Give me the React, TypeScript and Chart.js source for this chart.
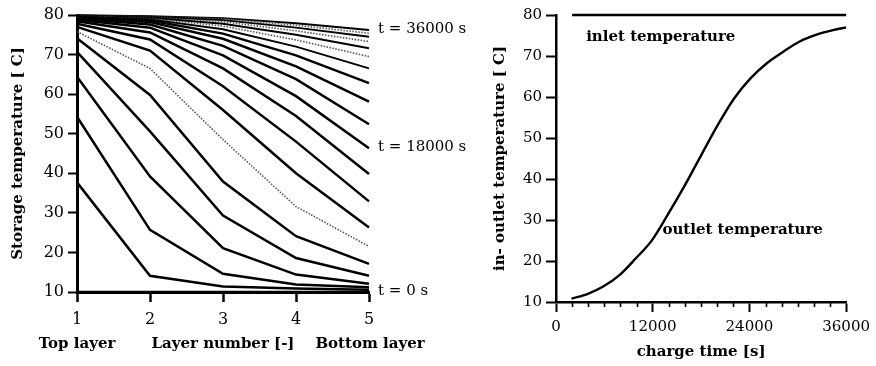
import React, { useEffect, useRef } from 'react';
import { Chart, registerables } from 'chart.js';
Chart.register(...registerables);

// ---------- Left chart: storage temperature profiles ----------
const layerNumbers = [1, 2, 3, 4, 5];
const profileTimes = [0, 1800, 3600, 5400, 7200, 9000, 10800, 12600, 14400, 16200, 18000,
  19800, 21600, 23400, 25200, 27000, 28800, 30600, 32400, 34200, 36000];
const profileTemps: number[][] = [
  [10, 10, 10, 10, 10],
  [37.7, 14.1, 11.4, 10.9, 10.6],
  [54.3, 25.7, 14.6, 11.9, 11.2],
  [64.4, 39.2, 21.1, 14.4, 12.1],
  [70.7, 50.6, 29.3, 18.6, 14.1],
  [74.1, 59.8, 37.9, 24.1, 17.1],
  [75.8, 66.5, 48.5, 31.6, 21.5],
  [77.0, 71.0, 56.0, 40.0, 26.3],
  [77.8, 73.8, 62.0, 48.0, 32.9],
  [78.4, 75.6, 66.5, 54.5, 39.8],
  [78.8, 76.8, 69.8, 59.5, 46.3],
  [79.1, 77.6, 72.2, 63.8, 52.4],
  [79.3, 78.2, 74.0, 67.0, 58.1],
  [79.5, 78.6, 75.3, 69.8, 62.8],
  [79.6, 78.9, 76.4, 72.0, 66.5],
  [79.7, 79.1, 77.2, 73.7, 69.5],
  [79.8, 79.3, 77.8, 75.0, 71.6],
  [79.85, 79.45, 78.3, 76.0, 73.3],
  [79.9, 79.55, 78.7, 76.8, 74.5],
  [79.9, 79.65, 79.0, 77.4, 75.4],
  [79.95, 79.7, 79.2, 77.9, 76.2],
];
const labelledTimes = [36000, 18000, 0];
const leftYTicks = [10, 20, 30, 40, 50, 60, 70, 80];

// ---------- Right chart: inlet / outlet temperature ----------
const inletTimes = [2000, 36000];
const inletTemps = [80, 80];
const outletTimes = [1920, 3960, 5800, 7840, 9880, 11920, 13960, 16000, 18040, 20080,
  22120, 24160, 26200, 28240, 30290, 32330, 34370, 36000];
const outletTemps = [10.8, 12.0, 13.7, 16.5, 20.6, 25.1, 31.6, 38.5, 45.9, 53.2,
  59.7, 64.6, 68.3, 71.1, 73.6, 75.2, 76.3, 77.0];
const rightXTicks = [0, 12000, 24000, 36000];
const minorStep = 2000;

const FONT = "'DejaVu Serif', 'Liberation Serif', serif";

// style per profile (not data)
const dottedProfiles = [6, 15, 17, 19];

function LeftChart() {
  const ref = useRef<HTMLCanvasElement>(null);
  useEffect(() => {
    const datasets = profileTemps.map((temps, i) => {
      const dotted = dottedProfiles.includes(i);
      const upper = i >= 14;
      return {
        label: 't = ' + profileTimes[i] + ' s',
        data: layerNumbers.map((l, j) => ({ x: l, y: temps[j] })),
        borderColor: dotted ? '#555' : '#000',
        borderWidth: dotted ? 1.6 : upper ? 1.9 : 2.5,
        borderDash: dotted ? [1.5, 1.5] : [],
        pointRadius: 0,
        tension: 0,
        clip: false as any,
      };
    });
    const annot = {
      id: 'leftAnnot',
      afterDraw(chart: any) {
        const { ctx, scales, chartArea } = chart;
        ctx.save();
        ctx.fillStyle = '#000';
        ctx.textBaseline = 'middle';
        ctx.font = `bold 15px ${FONT}`;
        ctx.textAlign = 'center';
        ctx.fillText('Top layer', scales.x.getPixelForValue(layerNumbers[0]), 344);
        ctx.fillText('Bottom layer', scales.x.getPixelForValue(layerNumbers[layerNumbers.length - 1]) + 1, 344);
        ctx.font = `15px ${FONT}`;
        ctx.textAlign = 'left';
        labelledTimes.forEach((t) => {
          const idx = profileTimes.indexOf(t);
          const v = profileTemps[idx][profileTemps[idx].length - 1];
          ctx.fillText('t = ' + t + ' s', chartArea.right + 9, scales.y.getPixelForValue(v) - 1);
        });
        ctx.restore();
      },
    };
    const chart = new Chart(ref.current!, {
      type: 'line',
      data: { datasets },
      options: {
        animation: false,
        responsive: false,
        events: [],
        layout: { padding: { top: 15, right: 111, left: 0, bottom: 0 }, autoPadding: false },
        plugins: { legend: { display: false }, tooltip: { enabled: false } },
        scales: {
          x: {
            type: 'linear', min: 1, max: 5,
            afterFit: (s: any) => { s.height = 74; },
            afterBuildTicks: (s: any) => { s.ticks = layerNumbers.map((v) => ({ value: v })); },
            ticks: { font: { family: FONT, size: 16 }, color: '#000', padding: 8, maxRotation: 0 },
            grid: { drawOnChartArea: false, drawTicks: true, tickLength: 10, tickWidth: 2.5, tickColor: '#000' },
            border: { display: true, color: '#000', width: 3 },
            title: { display: true, text: 'Layer number [-]', color: '#000', font: { family: FONT, size: 15, weight: 'bold' }, padding: { top: 0, bottom: 13 } },
          },
          y: {
            type: 'linear', min: 10, max: 80,
            afterFit: (s: any) => { s.width = 77; },
            afterBuildTicks: (s: any) => { s.ticks = leftYTicks.map((v) => ({ value: v })); },
            ticks: { font: { family: FONT, size: 16 }, color: '#000', padding: 4 },
            grid: { drawOnChartArea: false, drawTicks: true, tickLength: 9, tickWidth: 2, tickColor: '#000' },
            border: { display: true, color: '#000', width: 3 },
            title: { display: true, text: 'Storage temperature [ C]', color: '#000', font: { family: FONT, size: 15, weight: 'bold' }, padding: { top: 9, bottom: 0 } },
          },
        },
      } as any,
      plugins: [annot],
    });
    return () => chart.destroy();
  }, []);
  return <canvas ref={ref} width={480} height={366} style={{ position: 'absolute', left: 0, top: 0 }} />;
}

function RightChart() {
  const ref = useRef<HTMLCanvasElement>(null);
  useEffect(() => {
    const annot = {
      id: 'rightAnnot',
      afterDraw(chart: any) {
        const { ctx, scales } = chart;
        const xs = scales.x;
        ctx.save();
        ctx.strokeStyle = '#000';
        ctx.lineWidth = 1.6;
        for (let v = xs.min + minorStep; v < xs.max; v += minorStep) {
          if (rightXTicks.includes(v)) continue;
          const px = Math.round(xs.getPixelForValue(v)) + 0.5;
          ctx.beginPath();
          ctx.moveTo(px, xs.top);
          ctx.lineTo(px, xs.top + 5);
          ctx.stroke();
        }
        ctx.fillStyle = '#000';
        ctx.font = `bold 15px ${FONT}`;
        ctx.textBaseline = 'middle';
        ctx.textAlign = 'center';
        ctx.fillText('inlet temperature', xs.getPixelForValue(13000), scales.y.getPixelForValue(74.6));
        ctx.textAlign = 'left';
        ctx.fillText('outlet temperature', xs.getPixelForValue(13200), scales.y.getPixelForValue(27.6));
        ctx.restore();
      },
    };
    const chart = new Chart(ref.current!, {
      type: 'line',
      data: {
        datasets: [
          {
            label: 'inlet temperature',
            data: inletTimes.map((t, i) => ({ x: t, y: inletTemps[i] })),
            borderColor: '#000', borderWidth: 2.4, pointRadius: 0, clip: false as any,
          },
          {
            label: 'outlet temperature',
            data: outletTimes.map((t, i) => ({ x: t, y: outletTemps[i] })),
            borderColor: '#000', borderWidth: 2.4, pointRadius: 0,
            cubicInterpolationMode: 'monotone', clip: false as any,
          },
        ],
      },
      options: {
        animation: false,
        responsive: false,
        events: [],
        layout: { padding: { top: 15, right: 26, left: 0, bottom: 0 }, autoPadding: false },
        plugins: { legend: { display: false }, tooltip: { enabled: false } },
        scales: {
          x: {
            type: 'linear', min: 0, max: 36000,
            afterFit: (s: any) => { s.height = 64; },
            afterBuildTicks: (s: any) => { s.ticks = rightXTicks.map((v) => ({ value: v })); },
            ticks: { font: { family: FONT, size: 15 }, color: '#000', padding: 6, maxRotation: 0, callback: (v: any) => String(v) },
            grid: { drawOnChartArea: false, drawTicks: true, tickLength: 10, tickWidth: 2, tickColor: '#000' },
            border: { display: true, color: '#000', width: 2.5 },
            title: { display: true, text: 'charge time [s]', color: '#000', font: { family: FONT, size: 15, weight: 'bold' }, padding: { top: 0, bottom: 5 } },
          },
          y: {
            type: 'linear', min: 10, max: 80,
            afterFit: (s: any) => { s.width = 76; },
            afterBuildTicks: (s: any) => { s.ticks = leftYTicks.map((v) => ({ value: v })); },
            ticks: { font: { family: FONT, size: 15 }, color: '#000', padding: 4 },
            grid: { drawOnChartArea: false, drawTicks: true, tickLength: 10, tickWidth: 2, tickColor: '#000' },
            border: { display: true, color: '#000', width: 2.5 },
            title: { display: true, text: 'in- outlet temperature [ C]', color: '#000', font: { family: FONT, size: 15, weight: 'bold' }, padding: { top: 11, bottom: 0 } },
          },
        },
      } as any,
      plugins: [annot],
    });
    return () => chart.destroy();
  }, []);
  return <canvas ref={ref} width={396} height={366} style={{ position: 'absolute', left: 480, top: 0 }} />;
}

export default function App() {
  useEffect(() => {
    document.body.style.margin = '0';
    document.body.style.background = '#fff';
  }, []);
  return (
    <div style={{ position: 'relative', width: 876, height: 366, background: '#fff' }}>
      <LeftChart />
      <RightChart />
    </div>
  );
}
